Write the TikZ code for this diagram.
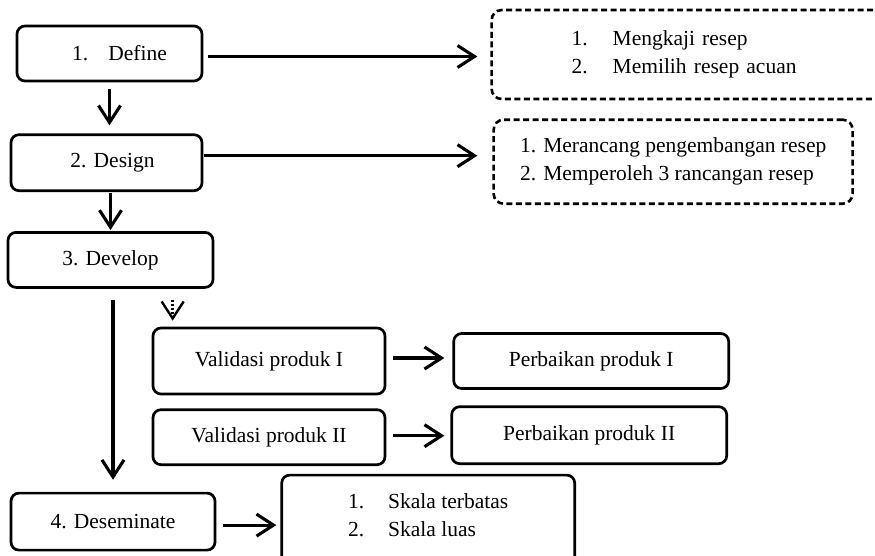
\documentclass[tikz,border=0pt]{standalone}
\usepackage{fontspec}
\setmainfont{Liberation Serif}
\usepackage{tikz}
\usetikzlibrary{positioning,arrows.meta}

\begin{document}
\begin{tikzpicture}[x=1pt, y=1pt,
  every node/.style={font=\fontsize{21.5pt}{28pt}\selectfont},
  stage/.style={rectangle, draw, line width=2.7pt, rounded corners=8pt, minimum height=55pt, align=center},
  note/.style={rectangle, draw, line width=2.6pt, dash pattern=on 6pt off 3.5pt, rounded corners=10pt, align=left},
  arr/.style={line width=3.1pt, -{Straight Barb[length=17pt, width=22pt]}}]
  \useasboundingbox (0,0) rectangle (875,-555);
  \clip (0,0) rectangle (875,-555);

  % main stages
  \node[stage, minimum width=185pt] (define) at (109.5,-53.5) {\hspace*{20pt}1.\hspace{20pt}Define};
  \node[stage, minimum width=191pt, minimum height=56pt, below=51pt of define, xshift=-3pt] (design) {\hspace*{12pt}2. Design};
  \node[stage, minimum width=205pt, below=39pt of design, xshift=4pt] (develop) {3. Develop};
  \node[stage, minimum width=204pt, minimum height=57pt, below=203pt of develop, xshift=2.5pt] (deseminate) {4. Deseminate};

  % validation steps
  \node[stage, minimum width=232pt, minimum height=66pt] (val1) at (269,-361) {Validasi produk I};
  \node[stage, minimum width=232pt, below=13pt of val1] (val2) {Validasi produk II};
  \node[stage, minimum width=275pt, right=66pt of val1] (perb1) {Perbaikan produk I};
  \node[stage, minimum width=275pt, minimum height=57pt, right=64pt of val2, yshift=2pt] (perb2) {Perbaikan produk II};
  \node[stage, align=left, minimum width=293pt, minimum height=116pt, right=64pt of deseminate, yshift=-11.5pt] (skala) {\makebox[40pt][l]{1.}Skala terbatas\\\makebox[40pt][l]{2.}Skala luas\\\strut};

  % notes
  \node[note, text width=260pt, inner xsep=80pt, minimum height=89pt, right=287pt of define, yshift=-1pt] (dash1) {\makebox[41pt][l]{1.}Mengkaji resep\\\makebox[41pt][l]{2.}Memilih resep acuan};
  \node[note, minimum width=359pt, minimum height=84pt, right=289pt of design, yshift=1pt] (dash2) {1. Merancang pengembangan resep\\2. Memperoleh 3 rancangan resep};

  \draw[arr, shorten <=5pt, shorten >=13pt] ([yshift=-3pt]define.east) -- ([yshift=-3pt]define.east -| dash1.west);
  \draw[arr, shorten <=1pt, shorten >=15pt] ([yshift=7pt]design.east) -- ([yshift=7pt]design.east -| dash2.west);
  \draw[arr, shorten <=7pt, shorten >=8pt] (define.south) -- (define.south |- design.north);
  \draw[arr, shorten <=1pt, shorten >=1pt] (design.south -| develop.north) -- (develop.north);
  \draw[arr, shorten <=11pt, shorten >=12pt] (develop.south -| deseminate.north) -- (deseminate.north);
  \coordinate (drop) at ([xshift=21pt]val1.north west);
  \draw[arr, line width=2.4pt, dash pattern=on 2pt off 2pt, shorten <=11pt, shorten >=6pt] (develop.south -| drop) -- (drop);
  \draw[arr, shorten <=7pt, shorten >=8pt] ([yshift=3pt]val1.east) -- ([yshift=3pt]val1.east -| perb1.west);
  \draw[arr, shorten <=7pt, shorten >=6pt] ([yshift=1.5pt]val2.east) -- ([yshift=1.5pt]val2.east -| perb2.west);
  \draw[arr, shorten <=7pt, shorten >=4pt] ([yshift=-3.5pt]deseminate.east) -- ([yshift=-3.5pt]deseminate.east -| skala.west);
\end{tikzpicture}
\end{document}
